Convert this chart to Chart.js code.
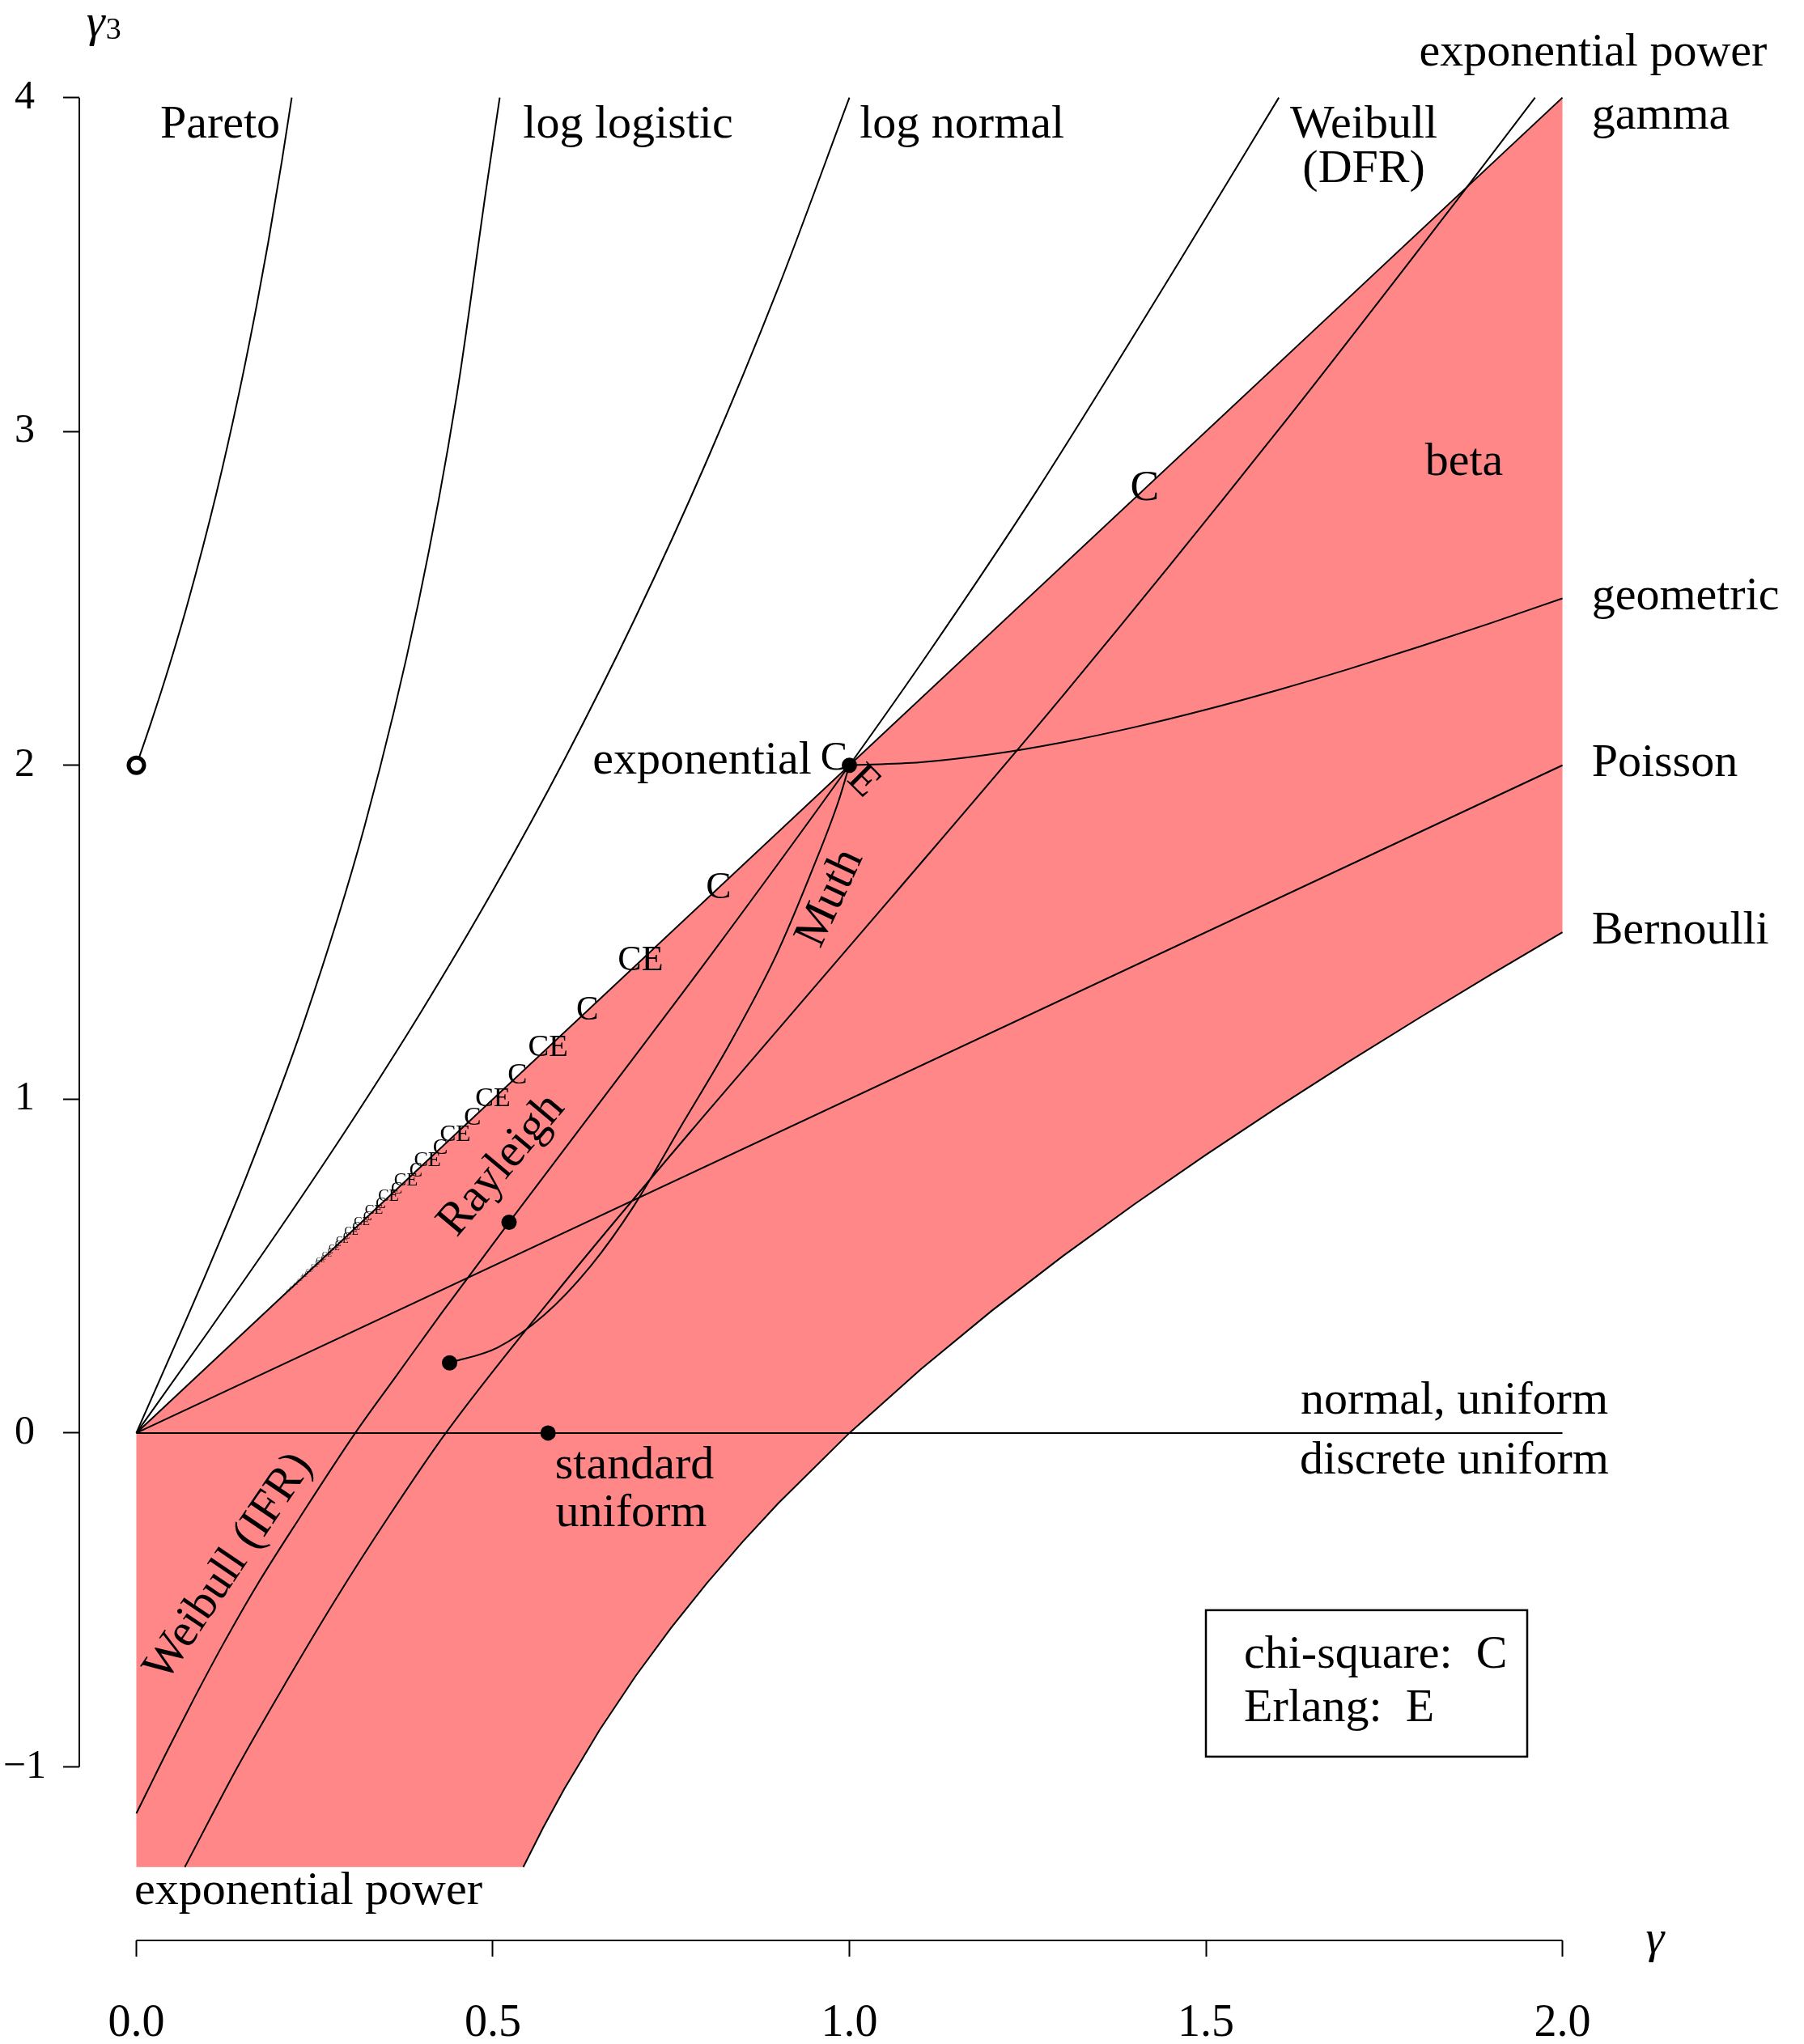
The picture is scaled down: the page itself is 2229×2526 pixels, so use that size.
<!DOCTYPE html>
<html>
<head>
<meta charset="utf-8">
<script src="https://cdn.jsdelivr.net/npm/chart.js@4.4.1/dist/chart.umd.min.js"></script>
<style>
  html, body { margin: 0; padding: 0; background: #fff; }
  #wrap { width: 2229px; height: 2526px; }
</style>
</head>
<body>
<div id="wrap"><canvas id="chart" width="2229" height="2526"></canvas></div>
<script>
// axis ticks
const xTicks = [0, 0.5, 1, 1.5, 2];
const xTickLabels = ['0.0', '0.5', '1.0', '1.5', '2.0'];
const yTicks = [-1, 0, 1, 2, 3, 4];
const yTickLabels = ['\u22121', '0', '1', '2', '3', '4'];

// curves as [gamma, gamma3] pairs
const gammaLine = [[0, 0], [2, 4]];
const poissonLine = [[0, 0], [2, 2]];
const symmetricLine = [[0, 0], [2, 0]];
const bernoulliCurve = [[0.5427, -1.3], [0.57, -1.1844], [0.6, -1.0667], [0.65, -0.8885], [0.7, -0.7286],
  [0.75, -0.5833], [0.8, -0.45], [0.85, -0.3265], [0.9, -0.2111], [1.0, 0], [1.1, 0.1909], [1.2, 0.3667],
  [1.3, 0.5308], [1.4, 0.6857], [1.5, 0.8333], [1.6, 0.975], [1.7, 1.1118], [1.8, 1.2444], [1.9, 1.3737], [2.0, 1.5]];
const geometricCurve = [[1, 2], [1.1, 2.0091], [1.2, 2.0333], [1.3, 2.0692], [1.4, 2.1143], [1.5, 2.1667],
  [1.6, 2.225], [1.7, 2.2882], [1.8, 2.3556], [1.9, 2.4263], [2, 2.5]];
const lognormalCurve = [[0, 0], [0.1, 0.301], [0.2, 0.608], [0.3, 0.927], [0.4, 1.264], [0.5, 1.625],
  [0.6, 2.016], [0.7, 2.443], [0.8, 2.912], [0.9, 3.429], [1, 4]];
const loglogisticCurve = [[0, 0], [0.0911, 0.444], [0.1533, 0.7628], [0.2341, 1.2246], [0.3204, 1.8199],
  [0.3954, 2.4852], [0.4493, 3.1076], [0.4901, 3.7184], [0.5096, 4.0]];
const paretoCurve = [[0, 2], [0.0101, 2.0615], [0.0204, 2.1264], [0.0417, 2.2671], [0.0716, 2.4825],
  [0.1118, 2.811], [0.1443, 3.1177], [0.169, 3.3806], [0.1849, 3.5659], [0.2041, 3.8103], [0.2179, 4.0]];
const weibullCurve = [[0, -1.1395], [0.0253, -1.03], [0.0418, -0.959], [0.062, -0.874], [0.0817, -0.792],
  [0.1203, -0.638], [0.168, -0.46], [0.229, -0.254], [0.307, 0], [0.3635, 0.168], [0.4279, 0.3587],
  [0.5227, 0.6311], [0.679, 1.072], [0.805, 1.4294], [1, 2], [1.1131, 2.3436], [1.2605, 2.8147],
  [1.4613, 3.504], [1.6023, 4.0]];
const muthCurve = [[0.4393, 0.21], [0.5066, 0.256], [0.5717, 0.353], [0.6369, 0.4995], [0.6977, 0.68],
  [0.7672, 0.931], [0.8324, 1.167], [0.8975, 1.432], [0.9497, 1.696], [0.9845, 1.891], [1, 2]];
const expPowerCurve = [[0.068, -1.3], [0.142, -1.0], [0.209, -0.75], [0.279, -0.5], [0.354, -0.25],
  [0.434, 0], [0.6, 0.45], [0.8, 0.96], [1.057, 1.599], [1.3, 2.21], [1.6, 3.0], [1.8586, 3.711], [1.9616, 4.0]];
const betaBottom = [[0, -1.3]];

// single distributions
const filledPoints = [[1, 2], [0.5227, 0.6311], [0.4393, 0.21], [0.5774, 0]];
const openPoints = [[0, 2]];

// chi-square (k = 1..60) and Erlang (n = 1..30) points on the gamma line
const chiSquareCV = [1.4142, 1.0, 0.8165, 0.7071, 0.6325, 0.5774, 0.5345, 0.5, 0.4714, 0.4472,
  0.4264, 0.4082, 0.3922, 0.378, 0.3651, 0.3536, 0.343, 0.3333, 0.3244, 0.3162,
  0.3086, 0.3015, 0.2949, 0.2887, 0.2828, 0.2774, 0.2722, 0.2673, 0.2626, 0.2582,
  0.254, 0.25, 0.2462, 0.2425, 0.239, 0.2357, 0.2325, 0.2294, 0.2265, 0.2236,
  0.2209, 0.2182, 0.2157, 0.2132, 0.2108, 0.2085, 0.2063, 0.2041, 0.202, 0.2,
  0.198, 0.1961, 0.1943, 0.1925, 0.1907, 0.189, 0.1873, 0.1857, 0.1841, 0.1826];
const chiSquareSkew = [2.8284, 2.0, 1.633, 1.4142, 1.2649, 1.1547, 1.069, 1.0, 0.9428, 0.8944,
  0.8528, 0.8165, 0.7845, 0.7559, 0.7303, 0.7071, 0.686, 0.6667, 0.6489, 0.6325,
  0.6172, 0.603, 0.5898, 0.5774, 0.5657, 0.5547, 0.5443, 0.5345, 0.5252, 0.5164,
  0.508, 0.5, 0.4924, 0.4851, 0.4781, 0.4714, 0.465, 0.4588, 0.4529, 0.4472,
  0.4417, 0.4364, 0.4313, 0.4264, 0.4216, 0.417, 0.4126, 0.4082, 0.4041, 0.4,
  0.3961, 0.3922, 0.3885, 0.3849, 0.3814, 0.378, 0.3746, 0.3714, 0.3682, 0.3651];
const erlangCV = [1.0, 0.7071, 0.5774, 0.5, 0.4472, 0.4082, 0.378, 0.3536, 0.3333, 0.3162,
  0.3015, 0.2887, 0.2774, 0.2673, 0.2582, 0.25, 0.2425, 0.2357, 0.2294, 0.2236,
  0.2182, 0.2132, 0.2085, 0.2041, 0.2, 0.1961, 0.1925, 0.189, 0.1857, 0.1826];
const erlangSkew = [2.0, 1.4142, 1.1547, 1.0, 0.8944, 0.8165, 0.7559, 0.7071, 0.6667, 0.6325,
  0.603, 0.5774, 0.5547, 0.5345, 0.5164, 0.5, 0.4851, 0.4714, 0.4588, 0.4472,
  0.4364, 0.4264, 0.417, 0.4082, 0.4, 0.3922, 0.3849, 0.378, 0.3714, 0.3651];

const FONT = "'Liberation Serif', 'DejaVu Serif', serif";
const RED = '#ff8787';

// text labels in data coordinates
const labels = [
  { text: 'Pareto', x: 0.1175, y: 3.917 },
  { text: 'log logistic', x: 0.6896, y: 3.917 },
  { text: 'log normal', x: 1.158, y: 3.917 },
  { text: 'Weibull', x: 1.7214, y: 3.917 },
  { text: '(DFR)', x: 1.7214, y: 3.783 },
  { text: 'exponential power', x: 2.043, y: 4.134 },
  { text: 'gamma', x: 2.041, y: 3.943, align: 'left' },
  { text: 'beta', x: 1.862, y: 2.906 },
  { text: 'geometric', x: 2.041, y: 2.504, align: 'left' },
  { text: 'Poisson', x: 2.041, y: 2.004, align: 'left' },
  { text: 'Bernoulli', x: 2.041, y: 1.503, align: 'left' },
  { text: 'normal, uniform', x: 1.8484, y: 0.0945 },
  { text: 'discrete uniform', x: 1.8484, y: -0.085 },
  { text: 'exponential', x: 0.947, y: 2.012, align: 'right' },
  { text: 'standard', x: 0.6986, y: -0.0994 },
  { text: 'uniform', x: 0.6941, y: -0.2424 },
  { text: 'exponential power', x: 0.2412, y: -1.374 },
  { text: 'Rayleigh', x: 0.5125, y: 0.802, rot: -50 },
  { text: 'Muth', x: 0.9733, y: 1.602, rot: -65 },
  { text: 'Weibull (IFR)', x: 0.13, y: -0.402, rot: -56 }
];

function pts(a) { return a.map(p => ({ x: p[0], y: p[1] })); }
function zip(xs, ys) { return xs.map((v, i) => ({ x: v, y: ys[i] })); }

function curve(a, smooth) {
  return {
    data: pts(a), showLine: true, borderColor: '#000', borderWidth: 2,
    pointRadius: 0, fill: false, tension: 0,
    cubicInterpolationMode: smooth ? 'monotone' : 'default', order: 5
  };
}

// beta region: gamma line on top, Bernoulli below, clipped at -1.3
const betaRegion = pts(gammaLine)
  .concat(pts(bernoulliCurve.slice().reverse()))
  .concat(pts(betaBottom));

function drawText(ctx, t, x, y, size, opt) {
  opt = opt || {};
  ctx.save();
  ctx.translate(x, y);
  if (opt.rot) ctx.rotate(opt.rot * Math.PI / 180);
  ctx.font = (opt.italic ? 'italic ' : '') + size + 'px ' + FONT;
  ctx.fillStyle = '#000';
  ctx.textAlign = opt.align || 'center';
  ctx.textBaseline = 'middle';
  ctx.fillText(t, 0, 0);
  ctx.restore();
}

// letters shrink as the degrees of freedom grow
function markSize(k) { return 53.5 * Math.exp(-0.065 * (k - 1)); }

const decorations = {
  id: 'decorations',
  afterDatasetsDraw(chart) {
    const ctx = chart.ctx;
    const xs = chart.scales.x, ys = chart.scales.y;
    const area = chart.chartArea;

    // R style axis lines spanning the tick range only
    ctx.save();
    ctx.strokeStyle = '#000';
    ctx.lineWidth = 2;
    ctx.beginPath();
    ctx.moveTo(xs.getPixelForValue(xTicks[0]), area.bottom);
    ctx.lineTo(xs.getPixelForValue(xTicks[xTicks.length - 1]), area.bottom);
    ctx.moveTo(area.left, ys.getPixelForValue(yTicks[0]));
    ctx.lineTo(area.left, ys.getPixelForValue(yTicks[yTicks.length - 1]));
    ctx.stroke();
    ctx.restore();

    // axis titles
    const gx = xs.getPixelForValue(-0.07), gy = ys.getPixelForValue(4.22);
    drawText(ctx, '\u03b3', gx, gy, 58, { italic: true, align: 'left' });
    drawText(ctx, '3', gx + 24, gy + 8, 38, { align: 'left' });
    drawText(ctx, '\u03b3', xs.getPixelForValue(2.13), area.bottom, 58, { italic: true });

    // chi-square / Erlang letters
    const chiMeta = chart.getDatasetMeta(chart.data.datasets.findIndex(d => d.id === 'chi'));
    const erlMeta = chart.getDatasetMeta(chart.data.datasets.findIndex(d => d.id === 'erlang'));
    ctx.save();
    ctx.fillStyle = '#000';
    ctx.textBaseline = 'middle';
    chiMeta.data.forEach((el, i) => {
      const k = i + 1;
      const s = markSize(k);
      if (s < 1.5) return;
      if (k === 2) {
        drawText(ctx, 'C', el.x - 19, el.y - 8, s);
        return;
      }
      ctx.font = s + 'px ' + FONT;
      if (k % 2 === 0) {
        const w = ctx.measureText('C').width + ctx.measureText('E').width;
        ctx.textAlign = 'left';
        ctx.fillText('C', el.x - w / 2, el.y);
      } else {
        ctx.textAlign = 'center';
        ctx.fillText('C', el.x, el.y);
      }
    });
    erlMeta.data.forEach((el, i) => {
      const n = i + 1;
      const s = markSize(2 * n);
      if (s < 1.5) return;
      if (n === 1) {
        drawText(ctx, 'E', el.x + 17, el.y + 20, markSize(1), { rot: 45 });
        return;
      }
      ctx.font = s + 'px ' + FONT;
      const wc = ctx.measureText('C').width;
      const w = wc + ctx.measureText('E').width;
      ctx.textAlign = 'left';
      ctx.fillText('E', el.x - w / 2 + wc, el.y);
    });
    ctx.restore();

    // distribution names
    labels.forEach(l => {
      drawText(ctx, l.text, xs.getPixelForValue(l.x), ys.getPixelForValue(l.y), 58,
        { align: l.align, rot: l.rot });
    });

    // key box
    const bx0 = xs.getPixelForValue(1.5), bx1 = xs.getPixelForValue(1.9506);
    const by0 = ys.getPixelForValue(-0.5308), by1 = ys.getPixelForValue(-0.9695);
    ctx.save();
    ctx.strokeStyle = '#000';
    ctx.lineWidth = 2.5;
    ctx.strokeRect(bx0, by0, bx1 - bx0, by1 - by0);
    ctx.restore();
    const tx = xs.getPixelForValue(1.5533);
    drawText(ctx, 'chi-square:  C', tx, ys.getPixelForValue(-0.6665), 58, { align: 'left' });
    drawText(ctx, 'Erlang:  E', tx, ys.getPixelForValue(-0.8265), 58, { align: 'left' });
  }
};

const datasets = [
  { data: pts(openPoints), pointRadius: 9.5, pointBorderWidth: 5, pointBorderColor: '#000',
    pointBackgroundColor: '#fff', order: 0 },
  { data: pts(filledPoints), pointRadius: 9.5, pointBorderWidth: 0, pointBackgroundColor: '#000',
    pointBorderColor: '#000', order: 0 },
  { id: 'chi', data: zip(chiSquareCV, chiSquareSkew), pointRadius: 0, order: 0 },
  { id: 'erlang', data: zip(erlangCV, erlangSkew), pointRadius: 0, order: 0 },
  curve(gammaLine, false),
  curve(poissonLine, false),
  curve(symmetricLine, false),
  curve(bernoulliCurve, false),
  curve(geometricCurve, true),
  curve(lognormalCurve, true),
  curve(loglogisticCurve, true),
  curve(paretoCurve, true),
  curve(weibullCurve, true),
  curve(muthCurve, true),
  curve(expPowerCurve, true),
  { data: betaRegion, showLine: true, borderWidth: 0, borderColor: RED, backgroundColor: RED,
    pointRadius: 0, tension: 0, fill: 'shape', order: 10 }
];

new Chart(document.getElementById('chart'), {
  type: 'scatter',
  data: { datasets: datasets },
  options: {
    responsive: false,
    animation: false,
    devicePixelRatio: 1,
    events: [],
    layout: { padding: { top: 34, right: 228, left: 0, bottom: 0 } },
    plugins: { legend: { display: false }, tooltip: { enabled: false } },
    scales: {
      x: {
        type: 'linear', min: -0.08, max: 2.08,
        afterBuildTicks: s => { s.ticks = xTicks.map(v => ({ value: v })); },
        afterFit: s => { s.height = 128; },
        border: { display: false },
        grid: { drawOnChartArea: false, drawTicks: true, tickLength: 20, tickColor: '#000', tickWidth: 2 },
        ticks: { autoSkip: false, maxRotation: 0, padding: 50, color: '#000',
          font: { family: FONT, size: 56 }, callback: (v, i) => xTickLabels[i] }
      },
      y: {
        type: 'linear', min: -1.52, max: 4.21,
        afterBuildTicks: s => { s.ticks = yTicks.map(v => ({ value: v })); },
        afterFit: s => { s.width = 98; },
        border: { display: false },
        grid: { drawOnChartArea: false, drawTicks: true, tickLength: 20, tickColor: '#000', tickWidth: 2 },
        ticks: { autoSkip: false, padding: 21, crossAlign: 'center', color: '#000',
          font: { family: FONT, size: 50, lineHeight: 0.5 }, callback: (v, i) => yTickLabels[i] }
      }
    }
  },
  plugins: [decorations]
});
</script>
</body>
</html>
